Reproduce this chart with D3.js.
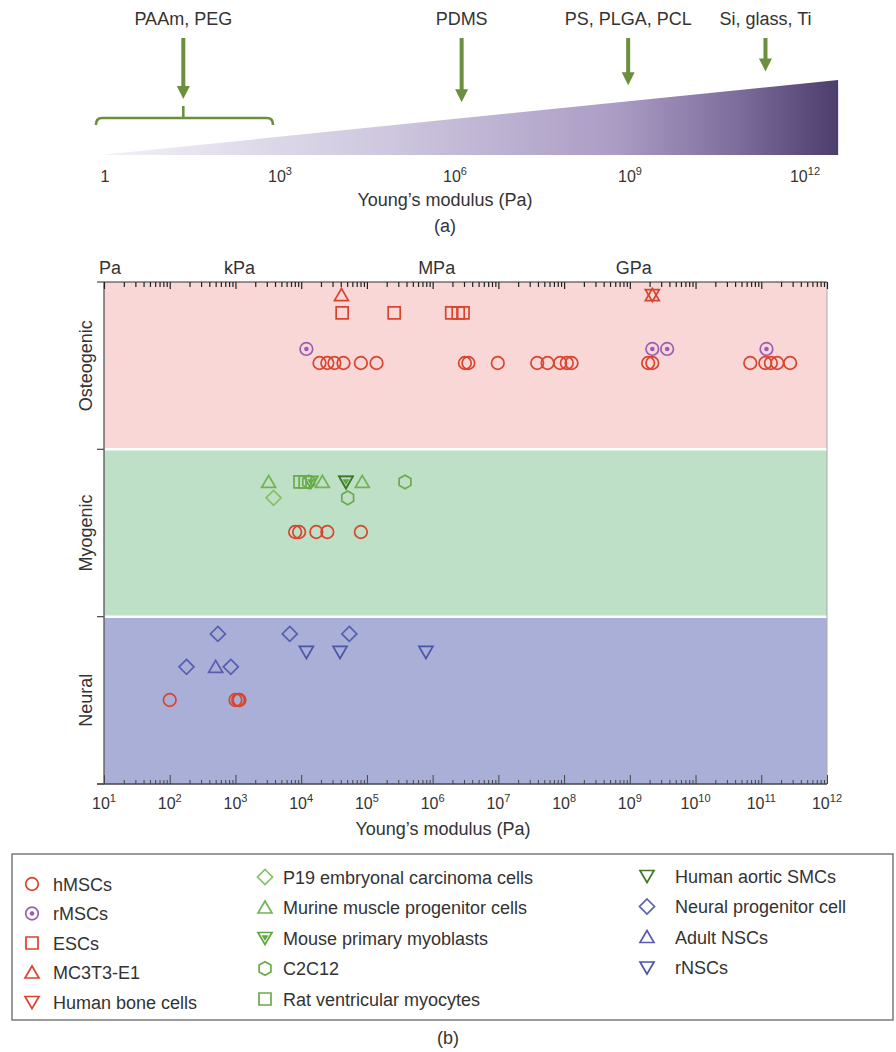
<!DOCTYPE html>
<html><head><meta charset="utf-8">
<script src="https://cdn.jsdelivr.net/npm/d3@7"></script>
<style>
body{margin:0;background:#fff}
text{font-family:"Liberation Sans",Arial,sans-serif;fill:#333}
</style>
</head><body>
<svg id="c" width="896" height="1052"></svg>
<script>
// ---------- Panel (a) data ----------
const stiffTicks = [1, 1e3, 1e6, 1e9, 1e12];
const materials = ["PAAm, PEG", "PDMS", "PS, PLGA, PCL", "Si, glass, Ti"];
const materialModulus = [22, 1.3e6, 9.3e8, 2.1e11];
const hydrogelRange = [0.7, 760];
const wedgeRange = [0.82, 3.7e12];

// ---------- Panel (b) data ----------
const lineages = ["Osteogenic", "Myogenic", "Neural"];
const unitLabels = ["Pa", "kPa", "MPa", "GPa"];
const unitValues = [10, 1e3, 1e6, 1e9];
const decadeTicks = [1e1,1e2,1e3,1e4,1e5,1e6,1e7,1e8,1e9,1e10,1e11,1e12];

// each point: [lineage, lane within band (0-10), Young's modulus in Pa]
const hMSCs = [
  ["Osteogenic",4.84,1.9e4],["Osteogenic",4.84,2.5e4],["Osteogenic",4.84,3.2e4],["Osteogenic",4.84,4.4e4],
  ["Osteogenic",4.84,8.1e4],["Osteogenic",4.84,1.4e5],["Osteogenic",4.84,3.1e6],["Osteogenic",4.84,3.5e6],
  ["Osteogenic",4.84,9.8e6],["Osteogenic",4.84,3.9e7],["Osteogenic",4.84,5.6e7],["Osteogenic",4.84,8.7e7],
  ["Osteogenic",4.84,1.1e8],["Osteogenic",4.84,1.3e8],["Osteogenic",4.84,1.9e9],["Osteogenic",4.84,2.2e9],
  ["Osteogenic",4.84,6.8e10],["Osteogenic",4.84,1.15e11],["Osteogenic",4.84,1.4e11],["Osteogenic",4.84,1.75e11],
  ["Osteogenic",4.84,2.75e11],
  ["Myogenic",4.94,8.1e3],["Myogenic",4.94,9.3e3],["Myogenic",4.94,1.7e4],["Myogenic",4.94,2.5e4],["Myogenic",4.94,8.1e4],
  ["Neural",4.98,100],["Neural",4.98,1.0e3],["Neural",4.98,1.1e3],["Neural",4.98,1.15e3]
];
const rMSCs = [["Osteogenic",4.0,1.2e4],["Osteogenic",4.0,2.2e9],["Osteogenic",4.0,3.7e9],["Osteogenic",4.0,1.2e11]];
const ESCs = [["Osteogenic",1.85,4.2e4],["Osteogenic",1.85,2.6e5],["Osteogenic",1.85,1.95e6],["Osteogenic",1.85,2.45e6],["Osteogenic",1.85,2.9e6]];
const MC3T3 = [["Osteogenic",0.78,4.1e4],["Osteogenic",0.78,2.2e9]];
const humanBone = [["Osteogenic",0.78,2.2e9]];
const P19 = [["Myogenic",2.9,3.8e3]];
const murineMuscle = [["Myogenic",1.95,3.2e3],["Myogenic",1.95,2.1e4],["Myogenic",1.95,8.5e4]];
const mouseMyoblasts = [["Myogenic",1.95,1.4e4],["Myogenic",1.95,4.8e4]];
const C2C12 = [["Myogenic",1.95,1.3e4],["Myogenic",1.95,3.8e5],["Myogenic",2.9,5.1e4]];
const ratMyocytes = [["Myogenic",1.95,9.6e3],["Myogenic",1.95,1.15e4]];
const aorticSMCs = [["Myogenic",1.95,4.8e4]];
const neuralProgenitor = [["Neural",1.03,540],["Neural",1.03,6.7e3],["Neural",1.03,5.4e4],["Neural",3.0,180],["Neural",3.0,850]];
const adultNSCs = [["Neural",3.0,500]];
const rNSCs = [["Neural",2.11,1.2e4],["Neural",2.11,3.9e4],["Neural",2.11,7.9e5]];

const seriesNames = ["hMSCs","rMSCs","ESCs","MC3T3-E1","Human bone cells",
  "P19 embryonal carcinoma cells","Murine muscle progenitor cells","Mouse primary myoblasts","C2C12","Rat ventricular myocytes",
  "Human aortic SMCs","Neural progenitor cell","Adult NSCs","rNSCs"];
const seriesData = [hMSCs,rMSCs,ESCs,MC3T3,humanBone,P19,murineMuscle,mouseMyoblasts,C2C12,ratMyocytes,aorticSMCs,neuralProgenitor,adultNSCs,rNSCs];
const seriesSymbols = ["circle","dotCircle","square","triUp","triDown","diamond","triUp","triDownFilled","hexagon","square","triDown","diamond","triUp","triDown"];
const seriesColors = ["#d8452f","#9a5db3","#d8452f","#d8452f","#d8452f",
  "#86c065","#74b354","#5ea83f","#6aab4a","#6aab4a","#3f7a2a","#5660b0","#5a5aae","#4a56a8"];
const legendColumn = [0,0,0,0,0,1,1,1,1,1,2,2,2,2];

// ---------- layout ----------
const svg = d3.select("#c");
const arrowGreen = "#6b8f3c";

// ===== Panel (a) =====
const xA = d3.scaleLog().domain([1, 1e12]).range([105, 805]);
const wedgeBase = 155;
const wedgeH = d3.scaleLog().domain(wedgeRange).range([0, 75]);

const defs = svg.append("defs");
const grad = defs.append("linearGradient").attr("id","wg")
  .attr("gradientUnits","userSpaceOnUse")
  .attr("x1", xA(wedgeRange[0])).attr("x2", xA(wedgeRange[1])).attr("y1",0).attr("y2",0);
[[0,"#f3f1f7"],[0.4,"#cdc6de"],[0.7,"#ab9cc4"],[0.86,"#7e6e9d"],[1,"#4c3d6c"]]
  .forEach(([o,c]) => grad.append("stop").attr("offset",o).attr("stop-color",c));

svg.append("path")
  .attr("d", d3.line()([
    [xA(wedgeRange[0]), wedgeBase],
    [xA(wedgeRange[1]), wedgeBase - wedgeH(wedgeRange[1])],
    [xA(wedgeRange[1]), wedgeBase]
  ]) + "Z")
  .attr("fill","url(#wg)");

// bracket for hydrogels
const bracketY = 118;
const bp = d3.path();
const bx0 = xA(hydrogelRange[0]), bx1 = xA(hydrogelRange[1]);
bp.moveTo(bx0, bracketY + 7);
bp.quadraticCurveTo(bx0, bracketY, bx0 + 6, bracketY);
bp.lineTo(bx1 - 6, bracketY);
bp.quadraticCurveTo(bx1, bracketY, bx1, bracketY + 7);
bp.moveTo(xA(materialModulus[0]), bracketY);
bp.lineTo(xA(materialModulus[0]), bracketY - 12);
svg.append("path").attr("d", bp.toString()).attr("fill","none")
  .attr("stroke", arrowGreen).attr("stroke-width", 2.6);

// arrows + labels
materials.forEach((m, i) => {
  const x = xA(materialModulus[i]);
  const tip = i === 0 ? bracketY - 19 : wedgeBase - wedgeH(materialModulus[i]) - 16;
  const top = 38;
  svg.append("line").attr("x1",x).attr("x2",x).attr("y1",top).attr("y2",tip-12)
    .attr("stroke",arrowGreen).attr("stroke-width",4);
  svg.append("path").attr("d", d3.line()([[x-6.5,tip-13],[x+6.5,tip-13],[x,tip]])+"Z")
    .attr("fill",arrowGreen);
  svg.append("text").attr("x",x).attr("y",25).attr("text-anchor","middle")
    .attr("font-size",18).text(m);
});

function supLabel(sel, v, supSize, dy) {
  const e = Math.round(Math.log10(v));
  if (e === 0) { sel.text("1"); return; }
  sel.append("tspan").text("10");
  sel.append("tspan").attr("font-size", supSize).attr("dy", dy).text(e);
}
stiffTicks.forEach(v => {
  const t = svg.append("text").attr("x", xA(v)).attr("y", 182).attr("text-anchor","middle").attr("font-size",16);
  supLabel(t, v, 11, -7);
});
svg.append("text").attr("x",445).attr("y",206).attr("text-anchor","middle").attr("font-size",18).text("Young\u2019s modulus (Pa)");
svg.append("text").attr("x",445).attr("y",232).attr("text-anchor","middle").attr("font-size",18).text("(a)");

// ===== Panel (b) =====
const top0 = 282, bot0 = 784;
const xB = d3.scaleLog().domain([10, 1e12]).range([104, 827]);
const yBand = d3.scaleBand().domain(lineages).range([top0, bot0]);
const yLane = d3.scaleLinear().domain([0, 10]).range([0, yBand.bandwidth()]);
const bandColors = ["#f9d7d7", "#bee0c6", "#a9afd6"];

svg.append("g").selectAll("rect").data(lineages).join("rect")
  .attr("x", xB.range()[0]).attr("width", xB.range()[1] - xB.range()[0])
  .attr("y", d => yBand(d)).attr("height", yBand.bandwidth())
  .attr("fill", (d,i) => bandColors[i]);
svg.append("g").selectAll("line").data(lineages.slice(1)).join("line")
  .attr("x1", xB.range()[0]+1).attr("x2", xB.range()[1])
  .attr("y1", d => yBand(d)).attr("y2", d => yBand(d))
  .attr("stroke","#fff").attr("stroke-width",2.5);

// frame
svg.append("line").attr("x1",xB.range()[1]).attr("x2",xB.range()[1]).attr("y1",top0).attr("y2",bot0)
  .attr("stroke","#aaa").attr("stroke-width",1);
svg.append("line").attr("x1",xB.range()[0]).attr("x2",xB.range()[1]).attr("y1",top0).attr("y2",top0)
  .attr("stroke","#333").attr("stroke-width",1.2);
svg.append("line").attr("x1",xB.range()[0]).attr("x2",xB.range()[0]).attr("y1",top0).attr("y2",bot0)
  .attr("stroke","#555").attr("stroke-width",1.3);
svg.append("line").attr("x1",xB.range()[0]-7).attr("x2",xB.range()[1]).attr("y1",bot0).attr("y2",bot0)
  .attr("stroke","#444").attr("stroke-width",1.3);
// left ticks at band boundaries
const bounds = lineages.map(d => yBand(d)).concat([bot0]);
svg.append("g").selectAll("line").data(bounds).join("line")
  .attr("x1", xB.range()[0]-7).attr("x2", xB.range()[0])
  .attr("y1", d=>d).attr("y2", d=>d).attr("stroke","#555").attr("stroke-width",1.3);

// ticks
const allTicks = xB.ticks(200);
const isDecade = v => Math.abs(Math.log10(v) - Math.round(Math.log10(v))) < 1e-9;
const minorTicks = allTicks.filter(v => !isDecade(v));
const majorTicks = allTicks.filter(isDecade);
svg.append("g").attr("transform",`translate(0,${top0})`)
  .call(d3.axisBottom(xB).tickValues(minorTicks).tickSize(5).tickFormat(""))
  .call(g => g.select(".domain").remove())
  .call(g => g.selectAll("line").attr("stroke","#222").attr("stroke-width",1.2));
svg.append("g").attr("transform",`translate(0,${top0})`)
  .call(d3.axisBottom(xB).tickValues(majorTicks).tickSize(7).tickFormat(""))
  .call(g => g.select(".domain").remove())
  .call(g => g.selectAll("line").attr("stroke","#222").attr("stroke-width",1.2));
svg.append("g").attr("transform",`translate(0,${bot0})`)
  .call(d3.axisTop(xB).tickValues(minorTicks).tickSize(4).tickFormat(""))
  .call(g => g.select(".domain").remove())
  .call(g => g.selectAll("line").attr("stroke","#444").attr("stroke-width",1));
svg.append("g").attr("transform",`translate(0,${bot0})`)
  .call(d3.axisTop(xB).tickValues(majorTicks).tickSize(9).tickFormat(""))
  .call(g => g.select(".domain").remove())
  .call(g => g.selectAll("line").attr("stroke","#444").attr("stroke-width",1));

decadeTicks.forEach(v => {
  const t = svg.append("text").attr("x", xB(v)).attr("y", 809).attr("text-anchor","middle").attr("font-size",16);
  supLabel(t, v, 11, -7);
});
svg.append("text").attr("x",443).attr("y",835).attr("text-anchor","middle").attr("font-size",18).text("Young\u2019s modulus (Pa)");

// unit labels on top
unitLabels.forEach((u,i) => {
  svg.append("text").attr("x", xB(unitValues[i]) + (i===0 ? 6 : 4)).attr("y", 274)
    .attr("text-anchor","middle").attr("font-size",18).text(u);
});

// lineage labels
lineages.forEach(l => {
  const cy = yBand(l) + yBand.bandwidth()/2;
  svg.append("text").attr("transform",`translate(92,${cy}) rotate(-90)`)
    .attr("text-anchor","middle").attr("font-size",18).text(l);
});

// symbols
function symPath(type) {
  const p = d3.path();
  const poly = pts => { p.moveTo(pts[0][0],pts[0][1]); pts.slice(1).forEach(q=>p.lineTo(q[0],q[1])); p.closePath(); };
  switch(type) {
    case "circle": case "dotCircle": p.arc(0,0,6.3,0,2*Math.PI); break;
    case "square": poly([[-6,-6],[6,-6],[6,6],[-6,6]]); break;
    case "triUp": poly([[0,-6.5],[7,5.5],[-7,5.5]]); break;
    case "triDown": case "triDownFilled": poly([[0,6.5],[7,-5.5],[-7,-5.5]]); break;
    case "diamond": poly([[0,-7.5],[7.5,0],[0,7.5],[-7.5,0]]); break;
    case "hexagon": poly(d3.range(6).map(k => { const a = -Math.PI/2 + k*Math.PI/3; return [6.8*Math.cos(a), 6.8*Math.sin(a)]; })); break;
  }
  return p.toString();
}
function drawSymbol(g, type, color) {
  g.append("path").attr("d", symPath(type)).attr("fill","none").attr("stroke",color).attr("stroke-width",1.7);
  if (type === "dotCircle") g.append("circle").attr("r",2.3).attr("fill",color);
  if (type === "triDownFilled") g.append("path").attr("d", d3.line()([[0,3],[3.5,-2.8],[-3.5,-2.8]])+"Z").attr("fill",color);
}

const marks = svg.append("g");
seriesData.forEach((data, si) => {
  data.forEach(d => {
    const g = marks.append("g").attr("transform", `translate(${xB(d[2])},${yBand(d[0]) + yLane(d[1])})`);
    drawSymbol(g, seriesSymbols[si], seriesColors[si]);
  });
});

// legend
svg.append("rect").attr("x",12).attr("y",854).attr("width",881).attr("height",166)
  .attr("fill","#fff").attr("stroke","#666").attr("stroke-width",1.3);
const colSymX = [32, 265, 647], colTextX = [53, 283, 675], colY0 = [884, 877, 876], colStep = [29.5, 30.5, 30.5];
const rowIdx = [0,0,0];
seriesNames.forEach((n, i) => {
  const c = legendColumn[i];
  const y = colY0[c] + colStep[c] * rowIdx[c]++;
  const g = svg.append("g").attr("transform",`translate(${colSymX[c]},${y})`);
  drawSymbol(g, seriesSymbols[i], seriesColors[i]);
  svg.append("text").attr("x", colTextX[c]).attr("y", y + 6.5).attr("font-size",18).text(n);
});
svg.append("text").attr("x",448).attr("y",1044).attr("text-anchor","middle").attr("font-size",18).text("(b)");
</script>
</body></html>
